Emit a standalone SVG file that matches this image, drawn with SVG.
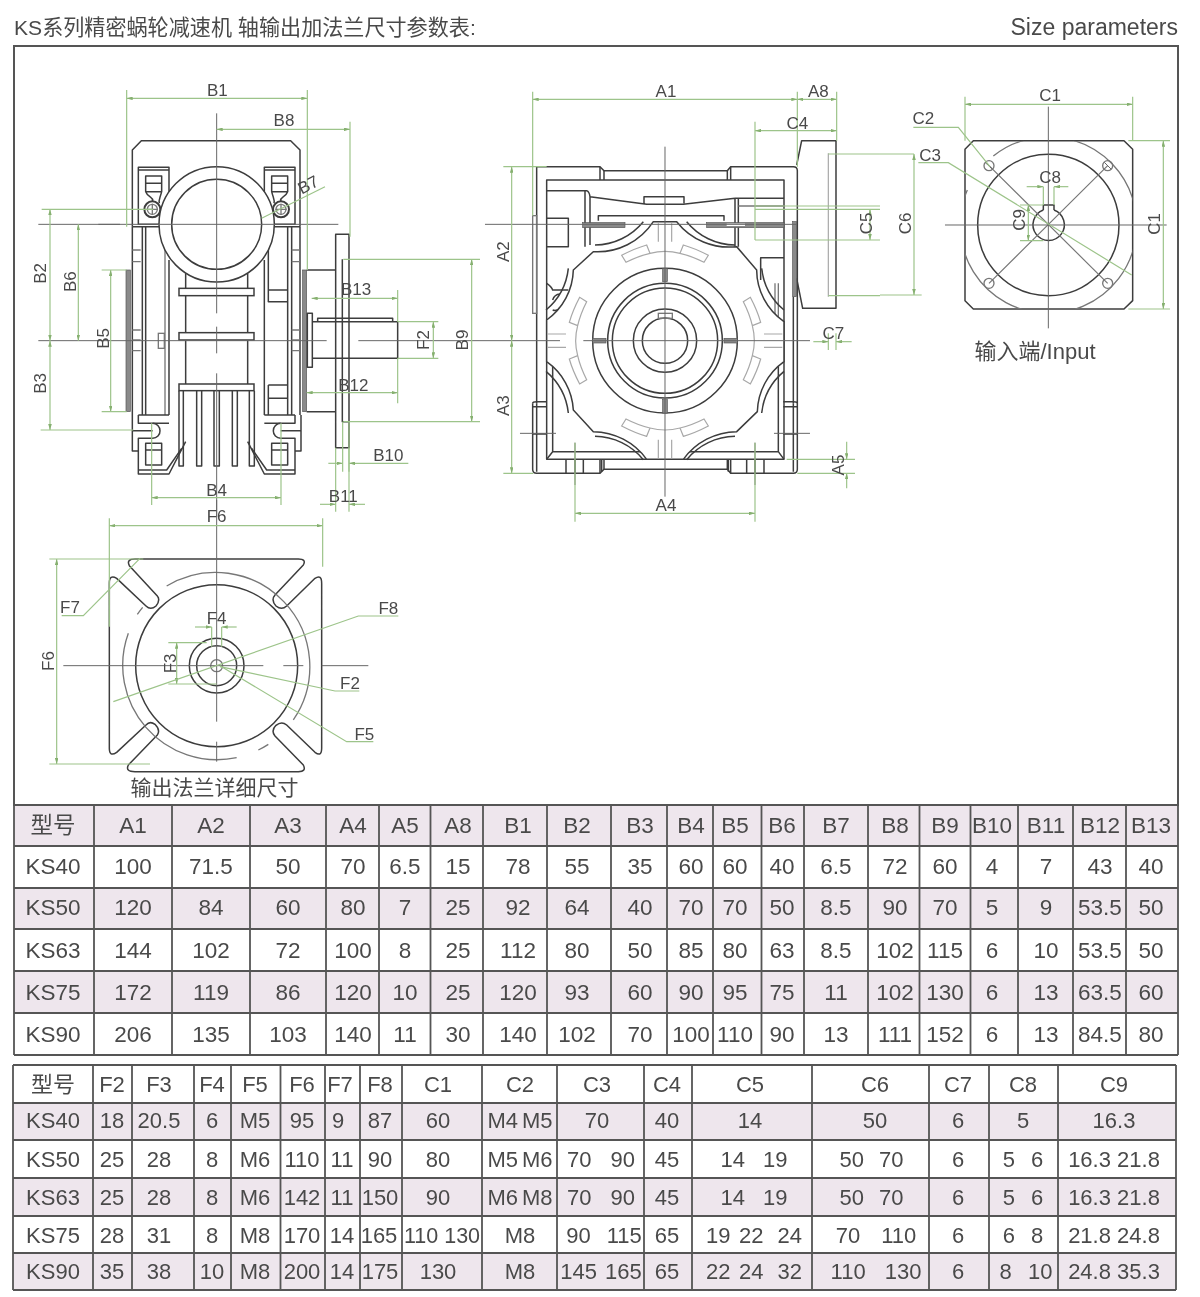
<svg xmlns="http://www.w3.org/2000/svg" width="1200" height="1297" viewBox="0 0 1200 1297">
<style>
text{font-family:"Liberation Sans","Noto Sans CJK SC",sans-serif;fill:#4a4a4a}
.d{fill:none;stroke:#3c3c3c;stroke-width:4.5;stroke-linejoin:round}
.w{fill:#fff;stroke:#3c3c3c;stroke-width:4.5}
.l{fill:none;stroke:#a8a8a8;stroke-width:3.6}
.m{fill:none;stroke:#777;stroke-width:4}
.b{fill:#8a8a8a;stroke:#555;stroke-width:2}
.c{fill:none;stroke:#666;stroke-width:3}
.g{fill:none;stroke:#9dc48a;stroke-width:3.6}
.a{fill:none;stroke:#9dc48a;stroke-width:3.6;marker-start:url(#ar);marker-end:url(#ar)}
.e{fill:none;stroke:#9dc48a;stroke-width:3.6;marker-end:url(#ar)}
.t{font-size:51px;text-anchor:middle}
.tl{fill:none;stroke:#555;stroke-width:1.8}
.sh{fill:#eee6ed}
.tb text{font-size:22.5px;text-anchor:middle}
.tc text{font-size:22px;text-anchor:middle}
</style>
<defs>
<filter id="soft" filterUnits="userSpaceOnUse" x="0" y="0" width="1200" height="1297"><feGaussianBlur stdDeviation="0.4"/></filter>
<marker id="ar" viewBox="0 0 10 6" refX="10" refY="3" markerWidth="5" markerHeight="3" orient="auto-start-reverse"><path d="M0 0L10 3L0 6Z" fill="#86b070"/></marker>
<clipPath id="sq"><path d="M280 212H732L758 238V692L732 717H280L255 692V238Z"/></clipPath>
<g id="v1top">
<path class="d" d="M447 365V292H355V463H430M355 300H447"/>
<path class="d" d="M377 318H425V365H377ZM377 340H425M377 365C385 385 400 380 398 393M425 365C420 385 415 390 418 400"/>
<circle class="d" cx="397" cy="418" r="24" style="stroke-width:6"/>
<circle class="m" cx="397" cy="418" r="15"/>
<path class="m" d="M380 418H414M397 401V435"/>
</g>
<g id="v1foot">
<path class="d" d="M355 1035V1060H447M355 1035H447M337 1035V1143H355M337 1082H398"/>
<path class="d" d="M398 1060A22 22 0 0 1 420 1082A22 22 0 0 1 398 1105H355V1212H447L497 1115"/>
<path class="d" d="M377 1120H425V1185H377ZM377 1140H425M355 1200H440L485 1135"/>
</g>
<g id="v2arc">
<path class="d" d="M620 455A190 190 0 0 0 765 525M845 595A190 190 0 0 0 912 720"/>
</g>
<g id="v2seg">
<path class="l" d="M425 556Q465 535 500 525L510 550Q475 558 438 577ZM685 556Q645 535 610 525L600 550Q635 558 672 577ZM510 550Q555 538 600 550M535 460V515M575 460V515"/>
<rect class="b" x="548" y="595" width="14" height="40"/>
</g>
<g id="v2foot">
<path class="d" d="M158 1000Q158 995 170 995H200M158 1010H200M158 1092H200M170 1000V1205"/>
<path class="d" d="M258 1168V1210M285 1168V1210M310 1168V1210M365 1168V1205"/>
<path class="c" d="M120 1090H228M285 1118V1245"/>
</g>
</defs>
<rect width="1200" height="1297" fill="#fff"/>
<g filter="url(#soft)">

<g id="heading">
<text x="14" y="35" font-size="21.100">KS系列精密蜗轮减速机 轴输出加法兰尺寸参数表:</text>
<text x="1178" y="35" font-size="23" text-anchor="end">Size parameters</text>
<path class="tl" d="M14 806V46H1178V806" style="stroke-width:2"/>
</g>

<g id="side-view" transform="translate(20,70) scale(.33333)">
<path class="d" d="M337 470V240L364 212H812L840 240V470"/>
<use href="#v1top"/><use href="#v1top" transform="matrix(-1 0 0 1 1180 0)"/>
<path class="d" d="M337 470H430M750 470H840M337 470V1035M367 470V1035M377 470V1035M447 570V1035M733 570V1035M803 470V1035M815 470V1035M840 470V1035"/>
<path class="m" d="M435 540V1035M337 540H362M337 575H362M337 780H362M337 810H362M337 842H362M815 540H840M815 575H840M815 780H840M815 810H840M815 842H840"/>
<rect class="b" x="318" y="600" width="13" height="425"/>
<rect class="b" x="848" y="600" width="12" height="425"/>
<rect class="m" x="415" y="790" width="18" height="45"/>
<path class="d" d="M745 500V695H803M745 660H803M745 945H803M745 945V1035M745 985H803"/>
<path class="d" d="M860 600H945M860 1025H945"/>
<rect class="d" x="862" y="730" width="15" height="162"/>
<path class="d" d="M947 493H987V1133H947ZM967 568V1055H987"/>
<path class="d" d="M877 755H1133V865H877M893 755V745H1118V755"/>
<path class="d" d="M497 610V942M683 610V942"/>
<rect class="w" x="477" y="655" width="225" height="22"/>
<rect class="w" x="477" y="788" width="225" height="22"/>
<rect class="w" x="477" y="942" width="225" height="20"/>
<path class="d" d="M477 962V1188H490V962M530 962V1188H545V962M582 962V1188H598V962M637 962V1188H652V962M688 962V1188H703V962"/>
<use href="#v1foot"/><use href="#v1foot" transform="matrix(-1 0 0 1 1180 0)"/>
<circle class="w" cx="590" cy="463" r="173"/>
<circle class="d" cx="590" cy="463" r="135"/>
<path class="c" d="M590 130V730M590 770V850M590 910V1340M55 463H300M235 463H955M55 812H920M1015 812H1380"/>
</g>

<g id="worm-view" transform="translate(480,70) scale(.33333)">
<path class="d" d="M170 1000V290H360L372 302H742L752 290H940Q952 290 952 302V1198Q952 1210 940 1210H752L742 1198H372L360 1210H170Q158 1210 158 1198V1000"/>
<path class="d" d="M360 290V330M372 302V330M742 302V330M752 290V330M360 1168V1210M372 1168V1198M742 1168V1198M752 1168V1210"/>
<rect class="d" x="200" y="330" width="712" height="838"/>
<path class="d" d="M218 875V1145H895V875M200 1168L218 1145M912 1168L895 1145"/>
<rect class="m" x="158" y="437" width="12" height="293"/>
<path class="d" d="M940 680V1000M200 362H320Q328 365 330 380M315 362V530M330 380V525M330 380L500 403H610L765 385M492 400V380H612V400M765 385H912M765 385V530M775 385V530M355 452V437H732V452M200 445H265V530H200M912 563H842V630"/>
<path class="m" d="M775 408H912M885 640V740M895 640V740"/>
<rect class="b" x="308" y="458" width="127" height="15"/>
<rect class="b" x="680" y="458" width="232" height="15"/>
<rect x="740" y="461" width="55" height="7" fill="#fff"/>
<path class="d" d="M200 640Q215 650 218 660H265M218 690A25 25 0 0 1 240 672M218 720Q232 725 240 712"/>
<path class="d" d="M950 285L965 212H1068V715H968L950 625"/>
<rect class="b" x="938" y="455" width="12" height="225"/>
<path class="l" d="M1045 250V680"/>
<path class="w" d="M520 455H590A200 200 0 0 0 770 530L830 600A190 190 0 0 0 912 755V875A190 190 0 0 0 832 1025L770 1085A200 200 0 0 0 610 1168H500A200 200 0 0 0 340 1085L280 1020A190 190 0 0 0 200 875V750A190 190 0 0 0 280 600L340 545A200 200 0 0 0 520 455Z"/>
<use href="#v2arc"/>
<use href="#v2arc" transform="matrix(-1 0 0 1 1110 0)"/>
<use href="#v2arc" transform="matrix(1 0 0 -1 0 1624)"/>
<use href="#v2arc" transform="matrix(-1 0 0 -1 1110 1624)"/>
<use href="#v2foot"/><use href="#v2foot" transform="matrix(-1 0 0 1 1110 0)"/>
<circle class="d" cx="555" cy="812" r="217"/>
<circle class="d" cx="555" cy="812" r="172"/>
<circle class="d" cx="555" cy="812" r="158"/>
<circle class="d" cx="555" cy="812" r="95"/>
<circle class="d" cx="555" cy="812" r="68"/>
<use href="#v2seg"/>
<use href="#v2seg" transform="rotate(90 555 812)"/>
<use href="#v2seg" transform="rotate(180 555 812)"/>
<use href="#v2seg" transform="rotate(270 555 812)"/>
<rect class="m" x="535" y="730" width="42" height="15"/>
<path class="c" d="M555 230V1280M15 463H950M0 812H240M310 812H990"/>
</g>

<g id="input-view" transform="translate(880,70) scale(.33333)">
<path class="d" d="M280 212H732L758 238V692L732 717H280L255 692V238Z"/>
<path class="m" clip-path="url(#sq)" d="M340 258A265 265 0 1 1 262 360"/>
<circle class="d" cx="505" cy="465" r="212"/>
<path class="d" d="M490 420V405H522V420M490 420A47 47 0 1 0 522 420"/>
<path class="l" d="M327 287L683 640M683 287L327 640" style="stroke:#777"/>
<circle class="m" cx="327" cy="287" r="15"/><circle class="m" cx="683" cy="287" r="15"/>
<circle class="m" cx="327" cy="640" r="15"/><circle class="m" cx="683" cy="640" r="15"/>
<path class="c" d="M195 465H860M505 110V775M315 277L337 297M673 277L693 297"/>
</g>

<g id="flange-view" transform="translate(20,500) scale(.33333)">
<path class="d" d="M345 177H835Q860 177 850 195L765 285Q752 300 768 318Q785 332 800 318L885 235Q905 222 905 250V745Q905 772 885 757L800 675Q785 662 768 676Q752 692 765 708L850 795Q860 815 835 815H345Q315 815 325 795L412 705Q422 690 405 673Q390 662 378 675L290 757Q268 772 268 745V250Q268 222 290 235L378 318Q392 332 408 318Q422 300 412 288L328 197Q318 177 345 177Z"/>
<path class="m" d="M440 258A283 283 0 0 1 820 660M745 733A283 283 0 0 1 715 750M650 773A283 283 0 0 1 325 400M352 343A283 283 0 0 1 368 322"/>
<circle class="d" cx="590" cy="497" r="243"/>
<circle class="d" cx="590" cy="497" r="82"/>
<circle class="d" cx="590" cy="497" r="60"/>
<circle class="m" cx="590" cy="497" r="18"/>
<path class="c" d="M590 0V665M590 725V785M130 497H730M790 497H850M905 497H1045"/>
</g>

<g id="connectors">
<g transform="translate(20,70) scale(.33333)">
<path class="a" d="M320 85H862"/><path class="g" d="M320 60V470M862 60V600"/>
<path class="a" d="M590 178H990"/><path class="g" d="M990 155V500"/>
<path class="g" d="M725 445L915 350"/>
<path class="a" d="M90 418V812"/><path class="a" d="M90 812V1080"/><path class="g" d="M65 418H400M62 1080H340"/>
<path class="a" d="M175 463V812"/>
<path class="a" d="M272 600V1025"/><path class="g" d="M245 600H320M245 1025H320"/>
<path class="a" d="M875 685H1133"/><path class="g" d="M1133 660V755"/>
<path class="a" d="M860 968H1133"/><path class="g" d="M1133 865V1000"/>
<path class="a" d="M1240 755V865"/><path class="g" d="M1133 755H1255M1133 865H1255"/>
<path class="a" d="M1355 568V1055"/><path class="g" d="M970 568H1380M970 1055H1380"/>
<path class="e" d="M925 1180H968"/><path class="e" d="M1165 1180H987"/><path class="g" d="M968 1055V1205M987 1055V1205"/>
<path class="e" d="M900 1303H947"/><path class="e" d="M1035 1303H987"/><path class="g" d="M947 1133V1325M987 1133V1325"/>
<path class="a" d="M395 1283H783"/><path class="g" d="M395 1060V1305M783 1060V1305"/>
</g>
<g transform="translate(480,70) scale(.33333)">
<path class="a" d="M158 88H952"/><path class="a" d="M952 88H1070"/><path class="g" d="M158 65V437M952 65V290M1070 65V212"/>
<path class="a" d="M825 182H1070"/><path class="g" d="M825 155V510"/>
<path class="a" d="M95 290V812"/><path class="a" d="M95 812V1210"/><path class="g" d="M70 290H200M70 1210H160"/>
<path class="a" d="M285 1330H825"/><path class="g" d="M285 1118V1355M825 1118V1355"/>
<path class="e" d="M1100 1115V1168"/><path class="e" d="M1100 1255V1210"/><path class="g" d="M920 1168H1125M952 1210H1125"/>
<path class="a" d="M1170 418V510"/><path class="g" d="M825 408H1200M825 418H1200M825 510H1200"/>
<path class="e" d="M1000 815H1045"/><path class="e" d="M1115 815H1068"/><path class="g" d="M1045 790V840M1068 790V840"/>
<path class="g" d="M1045 252H1200M1045 677H1200"/>
</g>
<g transform="translate(880,70) scale(.33333)">
<path class="g" d="M0 252H102M0 675H125"/><path class="a" d="M102 252V675"/>
<path class="a" d="M255 103H758"/><path class="g" d="M255 80V212M758 80V212"/>
<path class="a" d="M850 212V717"/><path class="g" d="M745 212H870M745 717H870"/>
<path class="g" d="M100 172H235L330 290"/>
<path class="g" d="M115 278H205L755 615"/>
<path class="e" d="M440 350H490"/><path class="e" d="M565 350H522"/><path class="g" d="M490 350V405M522 350V405"/>
<path class="a" d="M445 405V512"/><path class="g" d="M420 405H490M420 512H490"/>
</g>
<g transform="translate(20,500) scale(.33333)">
<path class="a" d="M268 77H908"/><path class="g" d="M268 55V380M908 55V200"/>
<path class="a" d="M110 177V792"/><path class="g" d="M88 177H370M88 792H390"/>
<path class="g" d="M125 347H190L360 175"/>
<path class="e" d="M525 381H575"/><path class="e" d="M650 381H605"/><path class="g" d="M575 381V440M605 381V440"/>
<path class="a" d="M470 428V552"/><path class="g" d="M445 428H560M445 552H590"/>
<path class="g" d="M1135 348H1015L280 605"/>
<path class="g" d="M1018 573H945L600 500"/>
<path class="g" d="M1060 725H980L600 497"/>
</g>
</g>

<g id="dimension-labels">
<g transform="translate(20,70) scale(.33333)">
<text class="t" x="592" y="77">B1</text><text class="t" x="792" y="168">B8</text>
<text class="t" transform="rotate(-28 865 345)" x="865" y="362">B7</text>
<text class="t" transform="rotate(-90 62 610)" x="62" y="627">B2</text>
<text class="t" transform="rotate(-90 62 940)" x="62" y="957">B3</text>
<text class="t" transform="rotate(-90 150 635)" x="150" y="652">B6</text>
<text class="t" transform="rotate(-90 250 805)" x="250" y="822">B5</text>
<text class="t" x="1008" y="675">B13</text><text class="t" x="1000" y="962">B12</text>
<text class="t" transform="rotate(-90 1210 810)" x="1210" y="827">F2</text>
<text class="t" transform="rotate(-90 1327 810)" x="1327" y="827">B9</text>
<text class="t" x="1105" y="1172">B10</text><text class="t" x="970" y="1295">B11</text>
<text class="t" x="590" y="1279">B4</text>
</g>
<g transform="translate(480,70) scale(.33333)">
<text class="t" x="558" y="82">A1</text><text class="t" x="1015" y="82">A8</text><text class="t" x="952" y="177">C4</text>
<text class="t" transform="rotate(-90 70 545)" x="70" y="562">A2</text>
<text class="t" transform="rotate(-90 70 1007)" x="70" y="1024">A3</text>
<text class="t" x="558" y="1322">A4</text>
<text class="t" transform="rotate(-90 1075 1185)" x="1075" y="1202">A5</text>
<text class="t" transform="rotate(-90 1160 460)" x="1160" y="477">C5</text>
<text class="t" x="1060" y="807">C7</text>
</g>
<g transform="translate(880,70) scale(.33333)">
<text class="t" x="510" y="92">C1</text><text class="t" x="130" y="162">C2</text><text class="t" x="150" y="274">C3</text>
<text class="t" x="510" y="340">C8</text>
<text class="t" transform="rotate(-90 75 460)" x="75" y="477">C6</text>
<text class="t" transform="rotate(-90 418 450)" x="418" y="467">C9</text>
<text class="t" transform="rotate(-90 822 462)" x="822" y="479">C1</text>
</g>
<text x="1035" y="359" font-size="22" text-anchor="middle">输入端/Input</text>
<g transform="translate(20,500) scale(.33333)">
<text class="t" x="590" y="67">F6</text>
<text class="t" transform="rotate(-90 85 483)" x="85" y="500">F6</text>
<text class="t" x="150" y="339">F7</text><text class="t" x="590" y="372">F4</text>
<text class="t" transform="rotate(-90 450 490)" x="450" y="507">F3</text>
<text class="t" x="1105" y="342">F8</text><text class="t" x="990" y="567">F2</text><text class="t" x="1033" y="720">F5</text>
</g>
<text x="214.500" y="795" font-size="21" text-anchor="middle">输出法兰详细尺寸</text>
</g>

<g id="table-a" class="tb">
<rect class="sh" x="14" y="805" width="1164" height="41"/>
<rect class="sh" x="14" y="888" width="1164" height="41"/>
<rect class="sh" x="14" y="971" width="1164" height="42"/>
<path class="tl" d="M14 805H1178M14 846H1178M14 888H1178M14 929H1178M14 971H1178M14 1013H1178M14 1055H1178M14 805V1055M94 805V1055M172 805V1055M250 805V1055M326 805V1055M379 805V1055M430.500 805V1055M483 805V1055M547 805V1055M611 805V1055M667 805V1055M713 805V1055M761.500 805V1055M804 805V1055M868 805V1055M919.500 805V1055M970.500 805V1055M1018 805V1055M1073 805V1055M1126 805V1055M1178 805V1055"/>
<g transform="translate(0,833)"><text x="53">型号</text><text x="133">A1</text><text x="211">A2</text><text x="288">A3</text><text x="353">A4</text><text x="405">A5</text><text x="458">A8</text><text x="518">B1</text><text x="577">B2</text><text x="640">B3</text><text x="691">B4</text><text x="735">B5</text><text x="782">B6</text><text x="836">B7</text><text x="895">B8</text><text x="945">B9</text><text x="992">B10</text><text x="1046">B11</text><text x="1100">B12</text><text x="1151">B13</text></g>
<g transform="translate(0,874)"><text x="53">KS40</text><text x="133">100</text><text x="211">71.5</text><text x="288">50</text><text x="353">70</text><text x="405">6.5</text><text x="458">15</text><text x="518">78</text><text x="577">55</text><text x="640">35</text><text x="691">60</text><text x="735">60</text><text x="782">40</text><text x="836">6.5</text><text x="895">72</text><text x="945">60</text><text x="992">4</text><text x="1046">7</text><text x="1100">43</text><text x="1151">40</text></g>
<g transform="translate(0,915)"><text x="53">KS50</text><text x="133">120</text><text x="211">84</text><text x="288">60</text><text x="353">80</text><text x="405">7</text><text x="458">25</text><text x="518">92</text><text x="577">64</text><text x="640">40</text><text x="691">70</text><text x="735">70</text><text x="782">50</text><text x="836">8.5</text><text x="895">90</text><text x="945">70</text><text x="992">5</text><text x="1046">9</text><text x="1100">53.5</text><text x="1151">50</text></g>
<g transform="translate(0,958)"><text x="53">KS63</text><text x="133">144</text><text x="211">102</text><text x="288">72</text><text x="353">100</text><text x="405">8</text><text x="458">25</text><text x="518">112</text><text x="577">80</text><text x="640">50</text><text x="691">85</text><text x="735">80</text><text x="782">63</text><text x="836">8.5</text><text x="895">102</text><text x="945">115</text><text x="992">6</text><text x="1046">10</text><text x="1100">53.5</text><text x="1151">50</text></g>
<g transform="translate(0,1000)"><text x="53">KS75</text><text x="133">172</text><text x="211">119</text><text x="288">86</text><text x="353">120</text><text x="405">10</text><text x="458">25</text><text x="518">120</text><text x="577">93</text><text x="640">60</text><text x="691">90</text><text x="735">95</text><text x="782">75</text><text x="836">11</text><text x="895">102</text><text x="945">130</text><text x="992">6</text><text x="1046">13</text><text x="1100">63.5</text><text x="1151">60</text></g>
<g transform="translate(0,1042)"><text x="53">KS90</text><text x="133">206</text><text x="211">135</text><text x="288">103</text><text x="353">140</text><text x="405">11</text><text x="458">30</text><text x="518">140</text><text x="577">102</text><text x="640">70</text><text x="691">100</text><text x="735">110</text><text x="782">90</text><text x="836">13</text><text x="895">111</text><text x="945">152</text><text x="992">6</text><text x="1046">13</text><text x="1100">84.5</text><text x="1151">80</text></g>
</g>

<g id="table-b" class="tc">
<rect class="sh" x="13" y="1103" width="1163" height="37"/>
<rect class="sh" x="13" y="1178" width="1163" height="38"/>
<rect class="sh" x="13" y="1253" width="1163" height="37"/>
<path class="tl" d="M13 1065H1176M13 1103H1176M13 1140H1176M13 1178H1176M13 1216H1176M13 1253H1176M13 1290H1176M13 1065V1290M93 1065V1290M132 1065V1290M194 1065V1290M231 1065V1290M280.500 1065V1290M325 1065V1290M360 1065V1290M402 1065V1290M482 1065V1290M557 1065V1290M644 1065V1290M692 1065V1290M812 1065V1290M929 1065V1290M989 1065V1290M1058 1065V1290M1176 1065V1290"/>
<g transform="translate(0,1092)"><text x="53">型号</text><text x="112">F2</text><text x="159">F3</text><text x="212">F4</text><text x="255">F5</text><text x="302">F6</text><text x="340">F7</text><text x="380">F8</text><text x="438">C1</text><text x="520">C2</text><text x="597">C3</text><text x="667">C4</text><text x="750">C5</text><text x="875">C6</text><text x="958">C7</text><text x="1023">C8</text><text x="1114">C9</text></g>
<g transform="translate(0,1128)"><text x="53">KS40</text><text x="112">18</text><text x="159">20.5</text><text x="212">6</text><text x="255">M5</text><text x="302">95</text><text x="338">9</text><text x="380">87</text><text x="438">60</text><text x="520">M4<tspan dx="4">M5</tspan></text><text x="597">70</text><text x="667">40</text><text x="750">14</text><text x="875">50</text><text x="958">6</text><text x="1023">5</text><text x="1114">16.3</text></g>
<g transform="translate(0,1167)"><text x="53">KS50</text><text x="112">25</text><text x="159">28</text><text x="212">8</text><text x="255">M6</text><text x="302">110</text><text x="342">11</text><text x="380">90</text><text x="438">80</text><text x="520">M5<tspan dx="4">M6</tspan></text><text x="601">70<tspan dx="13"> 90</tspan></text><text x="667">45</text><text x="754">14<tspan dx="12"> 19</tspan></text><text x="871.500">50<tspan dx="9"> 70</tspan></text><text x="958">6</text><text x="1023">5<tspan dx="10"> 6</tspan></text><text x="1114">16.3 21.8</text></g>
<g transform="translate(0,1205)"><text x="53">KS63</text><text x="112">25</text><text x="159">28</text><text x="212">8</text><text x="255">M6</text><text x="302">142</text><text x="342">11</text><text x="380">150</text><text x="438">90</text><text x="520">M6<tspan dx="4">M8</tspan></text><text x="601">70<tspan dx="13"> 90</tspan></text><text x="667">45</text><text x="754">14<tspan dx="12"> 19</tspan></text><text x="871.500">50<tspan dx="9"> 70</tspan></text><text x="958">6</text><text x="1023">5<tspan dx="10"> 6</tspan></text><text x="1114">16.3 21.8</text></g>
<g transform="translate(0,1243)"><text x="53">KS75</text><text x="112">28</text><text x="159">31</text><text x="212">8</text><text x="255">M8</text><text x="302">170</text><text x="342">14</text><text x="379">165</text><text x="442" font-size="21.500" style="font-size:21.5px">110 130</text><text x="520">M8</text><text x="604">90<tspan dx="10"> 115</tspan></text><text x="667">65</text><text x="754">19<tspan dx="2.500"> 22</tspan><tspan dx="8"> 24</tspan></text><text x="876">70<tspan dx="15"> 110</tspan></text><text x="958">6</text><text x="1023">6<tspan dx="10"> 8</tspan></text><text x="1114">21.8 24.8</text></g>
<g transform="translate(0,1279)"><text x="53">KS90</text><text x="112">35</text><text x="159">38</text><text x="212">10</text><text x="255">M8</text><text x="302">200</text><text x="342">14</text><text x="380">175</text><text x="438">130</text><text x="520">M8</text><text x="601">145<tspan dx="2"> 165</tspan></text><text x="667">65</text><text x="754">22<tspan dx="2.500"> 24</tspan><tspan dx="8"> 32</tspan></text><text x="876">110<tspan dx="13"> 130</tspan></text><text x="958">6</text><text x="1026">8<tspan dx="10"> 10</tspan></text><text x="1114">24.8 35.3</text></g>
</g>
</g>
</svg>
